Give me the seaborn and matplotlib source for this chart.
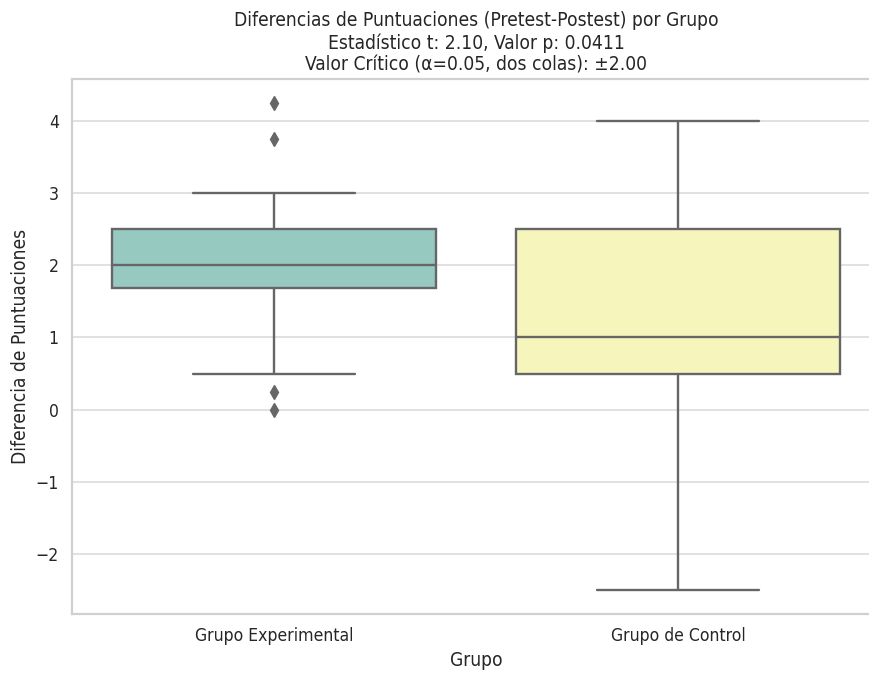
import numpy as np
import pandas as pd
import matplotlib
matplotlib.use("Agg")
import matplotlib.pyplot as plt
import seaborn as sns

groups = ["Grupo Experimental", "Grupo de Control"]
exp_diffs = [0, 0.25, 0.5, 1.0, 1.5, 1.75, 1.75, 2, 2, 2, 2, 2, 2.25,
             2.5, 2.5, 2.5, 2.5, 3, 3.75, 4.25]
ctrl_diffs = [-2.5, -1, 0, 0.5, 0.5, 0.5, 0.5, 0.75, 1, 1, 1, 1.5, 2, 2,
              2.5, 2.5, 3, 3, 3.5, 4]
t_stat = 2.10
p_val = 0.0411
t_crit = 2.00

df = pd.DataFrame({
    "Grupo": [groups[0]] * len(exp_diffs) + [groups[1]] * len(ctrl_diffs),
    "Diferencia": exp_diffs + ctrl_diffs,
})

sns.set_theme(style="whitegrid", font_scale=1.15)
plt.rcParams["font.family"] = ["DejaVu Sans"]
plt.rcParams["font.stretch"] = "condensed"
plt.rcParams["axes.linewidth"] = 1.6
plt.rcParams["axes.edgecolor"] = "#d0d0d0"
plt.rcParams["grid.linewidth"] = 1.2
plt.rcParams["grid.color"] = "#dcdcdc"

fig = plt.figure(figsize=(8.69, 6.75), dpi=100)
ax = fig.add_axes([72 / 869, 61 / 675, 808 / 869, 535 / 675])
sns.boxplot(data=df, x="Grupo", y="Diferencia", hue="Grupo", palette="Set3",
            legend=False, ax=ax, linecolor="#666666", linewidth=1.7,
            flierprops=dict(marker="d", markerfacecolor="#666666",
                            markeredgecolor="#666666", markersize=7))
ax.set_title("Diferencias de Puntuaciones (Pretest-Postest) por Grupo\n"
             f"Estadístico t: {t_stat:.2f}, Valor p: {p_val:.4f}\n"
             f"Valor Crítico (α=0.05, dos colas): ±{t_crit:.2f}",
             fontsize=13.8)
ax.set_xlabel("Grupo", fontsize=13.8)
ax.set_ylabel("Diferencia de Puntuaciones", fontsize=13.8)
fig.savefig("out.png", dpi=100)
